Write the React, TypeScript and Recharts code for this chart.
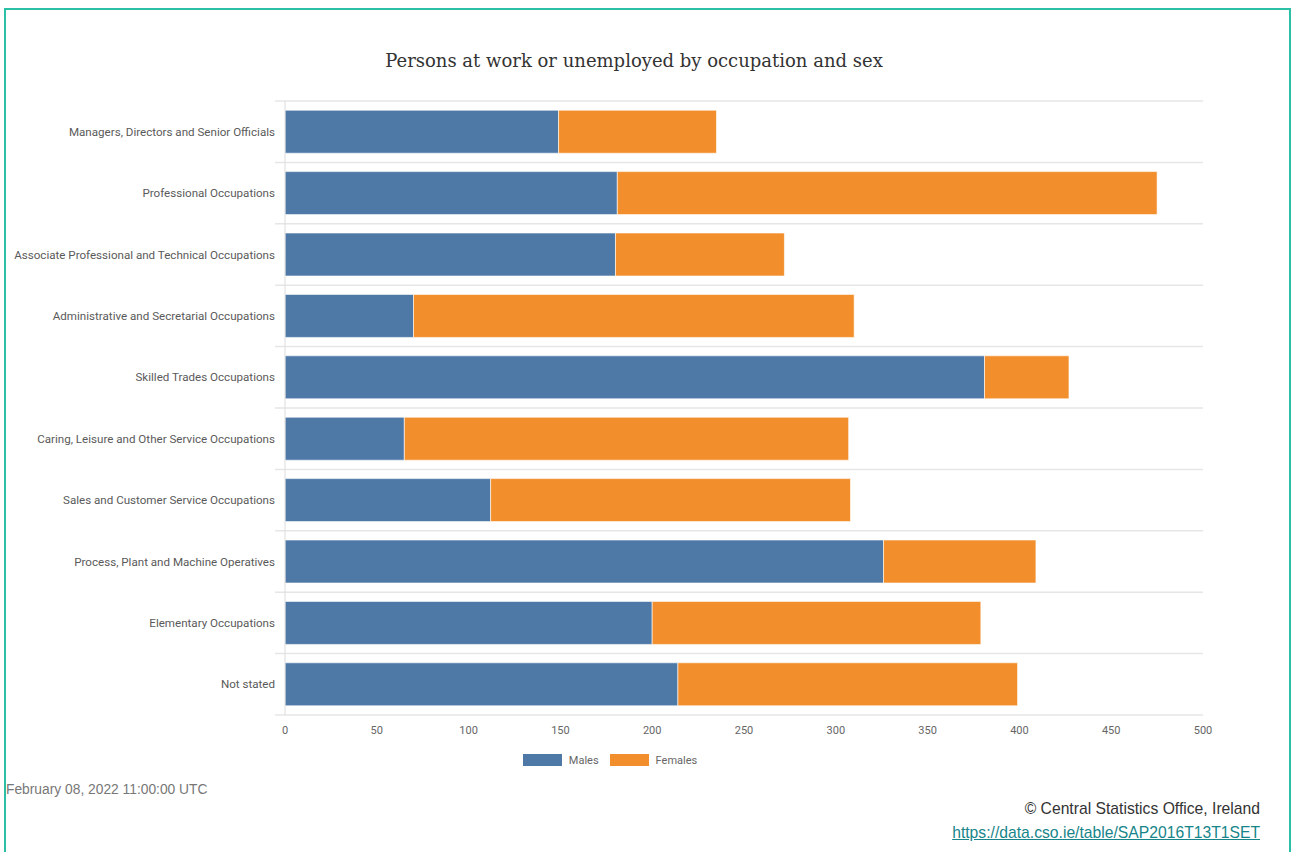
import React from 'react';
import { BarChart, Bar, XAxis, YAxis, CartesianGrid, Legend } from 'recharts';

const occupations = [
  'Managers, Directors and Senior Officials',
  'Professional Occupations',
  'Associate Professional and Technical Occupations',
  'Administrative and Secretarial Occupations',
  'Skilled Trades Occupations',
  'Caring, Leisure and Other Service Occupations',
  'Sales and Customer Service Occupations',
  'Process, Plant and Machine Operatives',
  'Elementary Occupations',
  'Not stated',
];
const males = [149, 181, 180, 70, 381, 65, 112, 326, 200, 214];
const females = [86, 294, 92, 240, 46, 242, 196, 83, 179, 185];
const seriesNames = ['Males', 'Females'];
const xTicks = [0, 50, 100, 150, 200, 250, 300, 350, 400, 450, 500];

const data = occupations.map((name, i) => ({ name, Males: males[i], Females: females[i] }));

const BLUE = '#4e79a7';
const ORANGE = '#f28e2b';
const FONT = 'Roboto, "Liberation Sans", Arial, sans-serif';
const FOOT = '"Liberation Sans", Arial, sans-serif';

const LegendBox = ({ payload }: any) => {
  const items = [...(payload || [])].sort(
    (a: any, b: any) => seriesNames.indexOf(a.value) - seriesNames.indexOf(b.value)
  );
  return (
    <div style={{ display: 'flex', justifyContent: 'center', gap: 11, height: 16, alignItems: 'center', paddingLeft: 7 }}>
      {items.map((p: any) => (
        <div key={p.value} style={{ display: 'flex', alignItems: 'center', gap: 7 }}>
          <span style={{ display: 'inline-block', width: 39, height: 12, background: p.color }} />
          <span style={{ fontFamily: FONT, fontSize: 11, color: '#666' }}>{p.value}</span>
        </div>
      ))}
    </div>
  );
};

// single-line category labels
const CategoryTick = ({ x, y, payload }: any) => (
  <text x={x} y={y} dy={4} textAnchor="end" fill="#5a5a5a" fontSize={11.6} fontFamily={FONT}>
    {payload.value}
  </text>
);

// lines sit on the category boundaries, reaching a bit into the label column
const BoundaryLine = (props: any) => (
  <line x1={props.x1 - 10} x2={props.x2} y1={props.y1} y2={props.y2} stroke="#e6e6e6" strokeWidth={1.5} />
);

export default function App() {
  return (
    <div style={{ position: 'absolute', left: 0, top: 0, width: 1293, height: 852, background: '#fff', overflow: 'hidden' }}>
      <div style={{ position: 'absolute', left: 4, top: 8, width: 1283, height: 900, border: '2px solid #2bbfa6' }} />
      <div style={{ position: 'absolute', left: 0, top: 50, width: 1268, textAlign: 'center', fontFamily: '"DejaVu Serif", serif', fontSize: 18, color: '#333' }}>
        Persons at work or unemployed by occupation and sex
      </div>
      <div style={{ position: 'absolute', left: 0, top: 0 }}>
        <BarChart
          width={1293}
          height={780}
          data={data}
          layout="vertical"
          barCategoryGap="15%"
          margin={{ top: 101, right: 90, left: 10, bottom: 12 }}
        >
          <CartesianGrid
            vertical={false}
            horizontal={<BoundaryLine />}
            horizontalCoordinatesGenerator={({ offset }: any) =>
              occupations.map((_, i) => offset.top + (offset.height * i) / occupations.length).concat(offset.top + offset.height)
            }
          />
          <XAxis
            type="number"
            domain={[0, 500]}
            ticks={xTicks}
            axisLine={false}
            tickLine={false}
            tickMargin={5}
            height={37}
            tick={{ fill: '#666', fontSize: 11, fontFamily: FONT }}
          />
          <YAxis
            type="category"
            dataKey="name"
            width={275}
            axisLine={{ stroke: '#dcdcdc' }}
            tickLine={false}
            tickSize={0}
            tickMargin={10}
            interval={0}
            tick={<CategoryTick />}
          />
          <Legend verticalAlign="bottom" content={<LegendBox />} />
          <Bar dataKey="Males" stackId="a" fill={BLUE} stroke="#fff" strokeOpacity={0.6} isAnimationActive={false} />
          <Bar dataKey="Females" stackId="a" fill={ORANGE} stroke="#fff" strokeOpacity={0.6} isAnimationActive={false} />
        </BarChart>
      </div>
      <div style={{ position: 'absolute', left: 6, top: 782, fontFamily: FOOT, fontSize: 13.8, color: '#777' }}>
        February 08, 2022 11:00:00 UTC
      </div>
      <div style={{ position: 'absolute', right: 33, top: 800, fontFamily: FOOT, fontSize: 15.7, color: '#333' }}>
        © Central Statistics Office, Ireland
      </div>
      <div style={{ position: 'absolute', right: 33, top: 824, fontFamily: FOOT, fontSize: 15.7, color: '#17858a', textDecoration: 'underline' }}>
        https://data.cso.ie/table/SAP2016T13T1SET
      </div>
    </div>
  );
}
